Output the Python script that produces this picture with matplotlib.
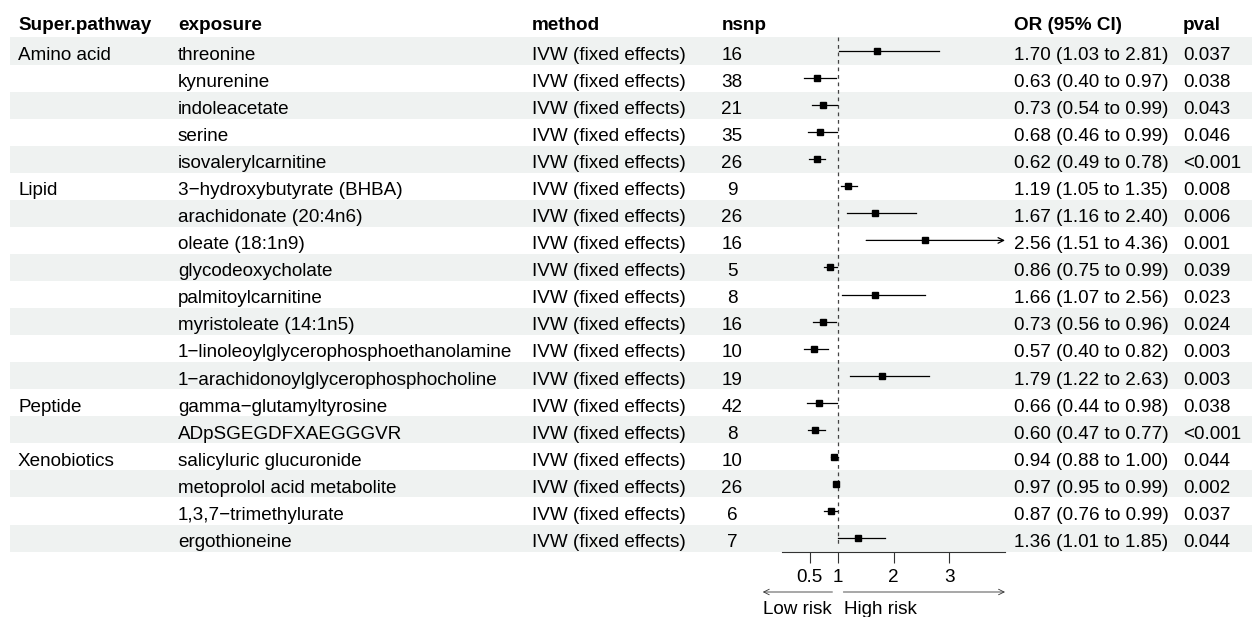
import matplotlib
matplotlib.use("Agg")
import matplotlib.pyplot as plt

plt.rcParams['font.family'] = ['Liberation Sans', 'DejaVu Sans']

pathways = ["Amino acid", "", "", "", "", "Lipid", "", "", "", "", "", "", "",
            "Peptide", "", "Xenobiotics", "", "", ""]
exposures = ["threonine", "kynurenine", "indoleacetate", "serine", "isovalerylcarnitine",
             "3\u2212hydroxybutyrate (BHBA)", "arachidonate (20:4n6)", "oleate (18:1n9)",
             "glycodeoxycholate", "palmitoylcarnitine", "myristoleate (14:1n5)",
             "1\u2212linoleoylglycerophosphoethanolamine",
             "1\u2212arachidonoylglycerophosphocholine", "gamma\u2212glutamyltyrosine",
             "ADpSGEGDFXAEGGGVR", "salicyluric glucuronide", "metoprolol acid metabolite",
             "1,3,7\u2212trimethylurate", "ergothioneine"]
method = "IVW (fixed effects)"
nsnp = [16, 38, 21, 35, 26, 9, 26, 16, 5, 8, 16, 10, 19, 42, 8, 10, 26, 6, 7]
or_est = [1.70, 0.63, 0.73, 0.68, 0.62, 1.19, 1.67, 2.56, 0.86, 1.66, 0.73, 0.57, 1.79,
          0.66, 0.60, 0.94, 0.97, 0.87, 1.36]
or_lo = [1.03, 0.40, 0.54, 0.46, 0.49, 1.05, 1.16, 1.51, 0.75, 1.07, 0.56, 0.40, 1.22,
         0.44, 0.47, 0.88, 0.95, 0.76, 1.01]
or_hi = [2.81, 0.97, 0.99, 0.99, 0.78, 1.35, 2.40, 4.36, 0.99, 2.56, 0.96, 0.82, 2.63,
         0.98, 0.77, 1.00, 0.99, 0.99, 1.85]
pvals = ["0.037", "0.038", "0.043", "0.046", "<0.001", "0.008", "0.006", "0.001", "0.039",
         "0.023", "0.024", "0.003", "0.003", "0.038", "<0.001", "0.044", "0.002", "0.037",
         "0.044"]
xticks = [0.5, 1, 2, 3]
xlim = (0, 4)

W, H = 1252, 617
fig = plt.figure(figsize=(W / 100, H / 100), dpi=100)

# background axes in pixel coords for the table part
bg = fig.add_axes([0, 0, 1, 1])
bg.set_xlim(0, W)
bg.set_ylim(H, 0)
bg.axis('off')

y0, dy = 51, 27.06   # first row centre / row height (px)
fs = 13.6
base = 8.8           # baseline offset below row centre (px)
band = '#EFF2F1'

for i in range(len(exposures)):
    yc = y0 + dy * i
    if i % 2 == 0:
        bg.add_patch(plt.Rectangle((10, yc - dy / 2), W - 10, dy, color=band, lw=0, zorder=0))
    or_txt = f"{or_est[i]:.2f} ({or_lo[i]:.2f} to {or_hi[i]:.2f})"
    yb = yc + base
    bg.text(18, yb, pathways[i], fontsize=fs, va='baseline')
    bg.text(178, yb, exposures[i], fontsize=fs, va='baseline')
    bg.text(532, yb, method, fontsize=fs, va='baseline')
    bg.text(732, yb, str(nsnp[i]), fontsize=fs, va='baseline', ha='center')
    bg.text(1014, yb, or_txt, fontsize=fs, va='baseline')
    bg.text(1183, yb, pvals[i], fontsize=fs, va='baseline')

headers = [(18, "Super.pathway"), (178, "exposure"), (532, "method"), (722, "nsnp"),
           (1014, "OR (95% CI)"), (1183, "pval")]
for x, h in headers:
    bg.text(x, 29.5, h, fontsize=fs, va='baseline', fontweight='bold')

# forest axes
ax_l, ax_r = 782, 1005
ax_top, ax_bot = y0 - dy / 2, 552
ax = fig.add_axes([ax_l / W, 1 - ax_bot / H, (ax_r - ax_l) / W, (ax_bot - ax_top) / H])
ax.patch.set_alpha(0)
n = len(exposures)
ybot = (ax_bot - y0) / dy
ax.set_ylim(ybot, -0.5)
ax.set_xlim(*xlim)
for s in ['top', 'right', 'left']:
    ax.spines[s].set_visible(False)
ax.spines['bottom'].set_linewidth(0.8)
ax.spines['bottom'].set_color('#333333')
ax.set_yticks([])
ax.set_xticks(xticks)
ax.set_xticklabels(["0.5", "1", "2", "3"])
ax.tick_params(axis='x', length=8, width=0.8, color='#333333', labelsize=fs, pad=4)

ax.vlines(1, -0.5, (545 - y0) / dy, colors='#444444', linestyles=(0, (3, 3)), lw=0.9)

for i in range(n):
    hi = or_hi[i]
    if hi > xlim[1]:
        ax.annotate("", xy=(xlim[1], i), xytext=(or_lo[i], i),
                    arrowprops=dict(arrowstyle='->', lw=0.9, color='black',
                                    shrinkA=0, shrinkB=0))
    else:
        ax.plot([or_lo[i], hi], [i, i], color='black', lw=0.9)
    ax.plot(or_est[i], i, marker='s', color='black', ms=5, zorder=3)

# risk arrows
ya = (592 - y0) / dy
yt = (614 - y0) / dy
ax.annotate("", xy=(-0.345, ya), xytext=(0.905, ya), annotation_clip=False,
            arrowprops=dict(arrowstyle='->', lw=0.6, color='#333333', shrinkA=0, shrinkB=0))
ax.annotate("", xy=(4.0, ya), xytext=(1.10, ya), annotation_clip=False,
            arrowprops=dict(arrowstyle='->', lw=0.6, color='#333333', shrinkA=0, shrinkB=0))
ax.text(-0.345, yt, "Low risk", fontsize=fs, va='baseline', ha='left', clip_on=False)
ax.text(1.12, yt, "High risk", fontsize=fs, va='baseline', ha='left', clip_on=False)

fig.savefig("out.png", dpi=100)
